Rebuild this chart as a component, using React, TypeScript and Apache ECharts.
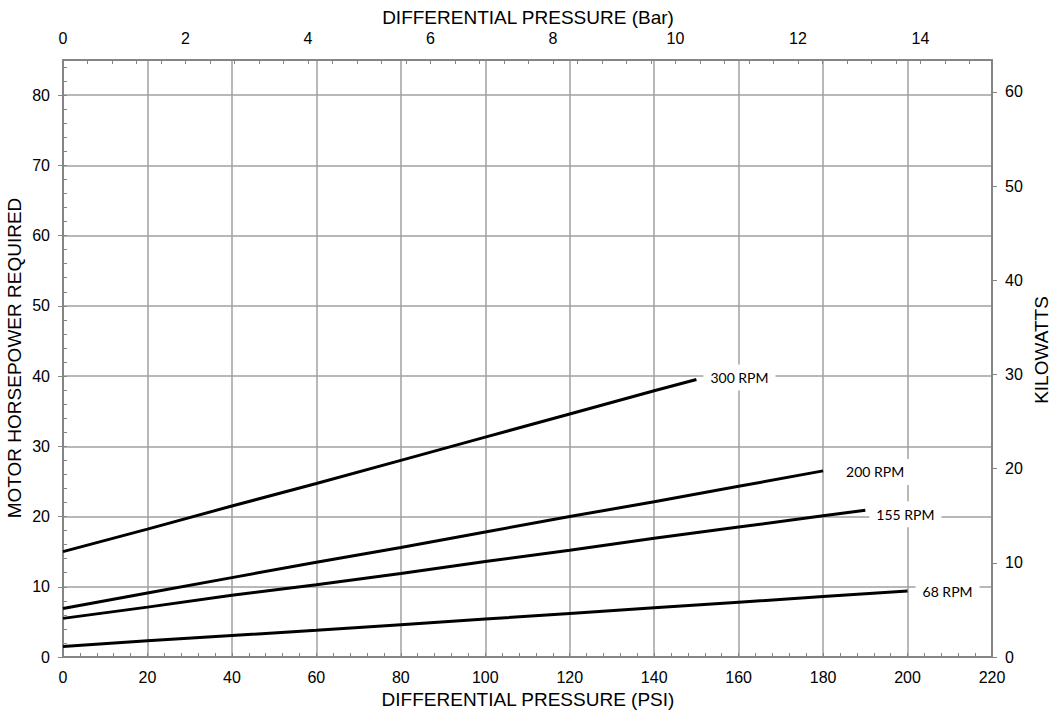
import React, { useEffect, useRef } from "react";
import * as echarts from "echarts";

const psi300 = [0, 20, 40, 60, 80, 100, 120, 140, 150];
const hp300 = [15, 18.2, 21.5, 24.7, 28.0, 31.3, 34.6, 37.9, 39.5];
const psi200 = [0, 20, 40, 60, 80, 100, 120, 140, 160, 180];
const hp200 = [6.9, 9.1, 11.3, 13.5, 15.6, 17.8, 20.0, 22.1, 24.3, 26.5];
const psi155 = [0, 20, 40, 60, 80, 100, 120, 140, 160, 180, 190];
const hp155 = [5.5, 7.1, 8.8, 10.3, 11.9, 13.6, 15.2, 16.9, 18.5, 20.1, 20.9];
const psi68 = [0, 20, 40, 60, 80, 100, 120, 140, 160, 180, 200];
const hp68 = [1.5, 2.3, 3.05, 3.8, 4.6, 5.4, 6.2, 7.0, 7.8, 8.6, 9.4];

const seriesNames = ["300 RPM", "200 RPM", "155 RPM", "68 RPM"];
const psiMax = 220;
const hpMax = 85;
const PSI_PER_BAR = 14.5038;
const KW_PER_HP = 0.7457;

const titleTop = "DIFFERENTIAL PRESSURE (Bar)";
const titleBottom = "DIFFERENTIAL PRESSURE (PSI)";
const titleLeft = "MOTOR HORSEPOWER REQUIRED";
const titleRight = "KILOWATTS";

const AXIS_COLOR = "#858585";
const GRID_COLOR = "#a0a0a0";
const FONT = "'Liberation Sans', Arial, sans-serif";

export default function App() {
  const ref = useRef<HTMLDivElement>(null);
  useEffect(() => {
    if (!ref.current) return;
    const chart = echarts.init(ref.current, undefined, { renderer: "svg" });
    const pairs = (xs: number[], ys: number[]) => xs.map((x, i) => [x, ys[i]]);
    const allData = [
      pairs(psi300, hp300),
      pairs(psi200, hp200),
      pairs(psi155, hp155),
      pairs(psi68, hp68),
    ];
    const labelOffsets = [
      [0, -2],
      [9, 1],
      [-3, 4],
      [1, 1],
    ];
    const labelStyle = {
      color: "#000",
      fontFamily: FONT,
      fontSize: 16,
    };
    chart.setOption({
      animation: false,
      grid: { left: 63, right: 61, top: 60, bottom: 56, containLabel: false },
      xAxis: [
        {
          type: "value",
          position: "bottom",
          min: 0,
          max: psiMax,
          interval: 20,
          axisLine: { show: true, onZero: false, lineStyle: { color: AXIS_COLOR, width: 2 } },
          axisTick: { show: true, inside: true, length: 4, lineStyle: { color: AXIS_COLOR, width: 1 } },
          minorTick: { show: true, splitNumber: 5, length: 4, lineStyle: { color: AXIS_COLOR, width: 1 } },
          splitLine: { show: true, lineStyle: { color: GRID_COLOR, width: 1.5 } },
          axisLabel: { ...labelStyle, margin: 12 },
        },
        {
          type: "value",
          position: "top",
          min: 0,
          max: psiMax / PSI_PER_BAR,
          interval: 0.4,
          axisLine: { show: true, onZero: false, lineStyle: { color: AXIS_COLOR, width: 2 } },
          axisTick: { show: true, inside: true, length: 4, interval: 0, lineStyle: { color: AXIS_COLOR, width: 1 } },
          splitLine: { show: false },
          axisLabel: {
            ...labelStyle,
            margin: 14,
            interval: 0,
            showMaxLabel: false,
            formatter: (v: number) =>
              Math.abs(v / 2 - Math.round(v / 2)) < 1e-6 ? String(Math.round(v)) : "",
          },
        },
      ],
      yAxis: [
        {
          type: "value",
          position: "left",
          min: 0,
          max: hpMax,
          interval: 10,
          axisLine: { show: true, onZero: false, lineStyle: { color: AXIS_COLOR, width: 2 } },
          axisTick: { show: true, inside: false, length: 5, lineStyle: { color: AXIS_COLOR, width: 1 } },
          splitLine: { show: true, lineStyle: { color: GRID_COLOR, width: 1.5 } },
          axisLabel: { ...labelStyle, margin: 13, showMaxLabel: false },
        },
        {
          type: "value",
          position: "right",
          min: 0,
          max: hpMax * KW_PER_HP,
          interval: 10,
          axisLine: { show: true, onZero: false, lineStyle: { color: AXIS_COLOR, width: 2 } },
          axisTick: { show: true, inside: false, length: 5, lineStyle: { color: AXIS_COLOR, width: 1 } },
          splitLine: { show: false },
          axisLabel: { ...labelStyle, margin: 13, showMaxLabel: false },
        },
        {
          type: "value",
          position: "left",
          min: 0,
          max: hpMax,
          interval: 2,
          axisLine: { show: false },
          axisTick: { show: true, inside: true, length: 4, interval: 0, lineStyle: { color: AXIS_COLOR, width: 1 } },
          splitLine: { show: false },
          axisLabel: { show: false },
        },
      ],
      series: allData.map((d, i) => ({
        name: seriesNames[i],
        type: "line",
        xAxisIndex: 0,
        yAxisIndex: 0,
        data: d,
        showSymbol: false,
        symbol: "none",
        smooth: false,
        lineStyle: { color: "#000", width: 3 },
        z: 5,
        endLabel: {
          show: true,
          formatter: "{a}",
          color: "#000",
          fontFamily: "Lato, 'Open Sans', sans-serif",
          fontSize: 14,
          backgroundColor: "#fff",
          padding: [6, 7],
          distance: 7,
          offset: labelOffsets[i],
        },
      })),
      graphic: [
        {
          type: "text",
          x: 528,
          y: 17,
          style: {
            text: titleTop,
            fontFamily: FONT,
            fontSize: 19,
            fill: "#000",
            textAlign: "center",
            textVerticalAlign: "middle",
          },
        },
        {
          type: "text",
          x: 528,
          y: 699,
          style: {
            text: titleBottom,
            fontFamily: FONT,
            fontSize: 19,
            fill: "#000",
            textAlign: "center",
            textVerticalAlign: "middle",
          },
        },
        {
          type: "text",
          x: 14,
          y: 358,
          rotation: Math.PI / 2,
          style: {
            text: titleLeft,
            fontFamily: FONT,
            fontSize: 19,
            fill: "#000",
            textAlign: "center",
            textVerticalAlign: "middle",
          },
        },
        {
          type: "text",
          x: 1041,
          y: 350,
          rotation: Math.PI / 2,
          style: {
            text: titleRight,
            fontFamily: FONT,
            fontSize: 19,
            fill: "#000",
            textAlign: "center",
            textVerticalAlign: "middle",
          },
        },
      ],
    });
    return () => chart.dispose();
  }, []);
  return (
    <div
      ref={ref}
      style={{ width: 1053, height: 713, position: "absolute", left: 0, top: 0 }}
    />
  );
}
